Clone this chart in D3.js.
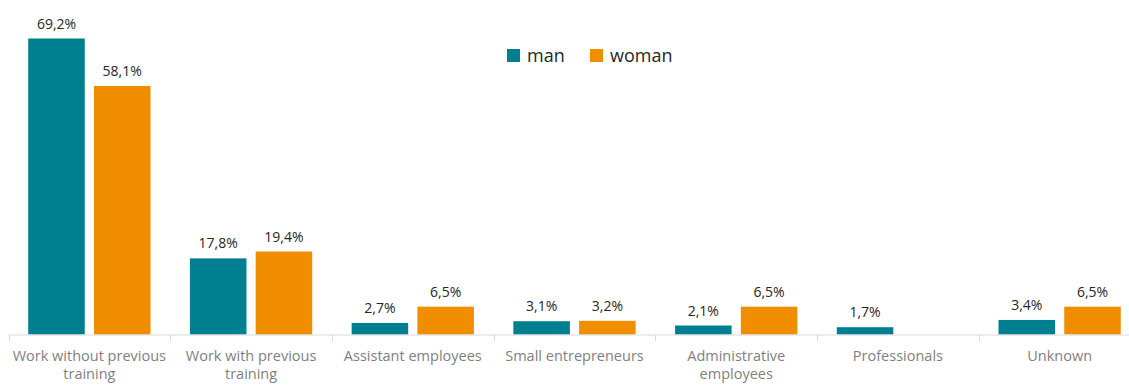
<!DOCTYPE html>
<html>
<head>
<meta charset="utf-8">
<script src="https://cdn.jsdelivr.net/npm/d3@7"></script>
<style>
  html, body { margin: 0; padding: 0; background: #fff; }
  svg { display: block; }
</style>
</head>
<body>
<svg id="chart" width="1129" height="385"></svg>
<script>
// Occupation categories (each label split into display lines)
const categories = [
  ["Work without previous", "training"],
  ["Work with previous", "training"],
  ["Assistant employees"],
  ["Small entrepreneurs"],
  ["Administrative", "employees"],
  ["Professionals"],
  ["Unknown"]
];
const seriesNames = ["man", "woman"];
const manValues   = [69.2, 17.8, 2.7, 3.1, 2.1, 1.7, 3.4];
const womanValues = [58.1, 19.4, 6.5, 3.2, 6.5, null, 6.5];

const colors = { man: "#007F91", woman: "#F18E00" };
const fontFamily = "'Open Sans', 'DejaVu Sans', sans-serif";

const svg = d3.select("#chart");

const rows = categories.map((c, i) => ({
  key: i,
  lines: c,
  man: manValues[i],
  woman: womanValues[i]
}));

// Band scale extends a little past the right edge of the canvas
const x = d3.scaleBand()
  .domain(rows.map(d => d.key))
  .range([8.5, 1140.5])
  .paddingInner(0)
  .paddingOuter(0);

const xInner = d3.scaleBand()
  .domain(seriesNames)
  .range([0, x.bandwidth()])
  .paddingInner(0.14)
  .paddingOuter(0.3);

const y = d3.scaleLinear()
  .domain([0, 69.2])
  .range([334.5, 38.5]);

const fmt = v => d3.format(".1f")(v).replace(".", ",") + "%";

// Bars
const groups = svg.append("g").selectAll("g")
  .data(rows)
  .join("g")
  .attr("transform", d => `translate(${x(d.key)},0)`);

groups.selectAll("rect")
  .data(d => seriesNames.map(s => ({ s, v: d[s] })).filter(e => e.v != null))
  .join("rect")
  .attr("x", e => xInner(e.s))
  .attr("width", xInner.bandwidth())
  .attr("y", e => y(e.v))
  .attr("height", e => y(0) - y(e.v))
  .attr("fill", e => colors[e.s]);

// Value labels above each bar
groups.selectAll("text.val")
  .data(d => seriesNames.map(s => ({ s, v: d[s] })).filter(e => e.v != null))
  .join("text")
  .attr("class", "val")
  .attr("x", e => xInner(e.s) + xInner.bandwidth() / 2)
  .attr("y", e => y(e.v) - 10)
  .attr("text-anchor", "middle")
  .attr("font-family", fontFamily)
  .attr("font-size", "14px")
  .attr("fill", "#262626")
  .text(e => fmt(e.v));

// Category axis
const axis = svg.append("g")
  .attr("transform", `translate(0,${y(0) + 0.5})`);

axis.append("line")
  .attr("x1", x.range()[0]).attr("x2", x.range()[1])
  .attr("y1", 0).attr("y2", 0)
  .attr("stroke", "#d9d9d9").attr("stroke-width", 1);

axis.selectAll("line.tick")
  .data(rows.map(d => x(d.key)).concat([x.range()[1]]))
  .join("line")
  .attr("class", "tick")
  .attr("x1", d => Math.round(d) + 0.5).attr("x2", d => Math.round(d) + 0.5)
  .attr("y1", 0).attr("y2", 6)
  .attr("stroke", "#d9d9d9").attr("stroke-width", 1);

const catLabels = axis.selectAll("text.cat")
  .data(rows)
  .join("text")
  .attr("class", "cat")
  .attr("x", d => x(d.key) + x.bandwidth() / 2)
  .attr("y", 26)
  .attr("text-anchor", "middle")
  .attr("font-family", fontFamily)
  .attr("font-size", "14.5px")
  .attr("fill", "#7f7f7f");

catLabels.selectAll("tspan")
  .data(d => d.lines.map((t, i) => ({ t, i, cx: x(d.key) + x.bandwidth() / 2 })))
  .join("tspan")
  .attr("x", t => t.cx)
  .attr("dy", t => t.i === 0 ? 0 : 18)
  .text(t => t.t);

// Legend
const legend = svg.append("g").attr("transform", "translate(507,49)");
const legendX = { man: 0, woman: 83 };
const items = legend.selectAll("g")
  .data(seriesNames)
  .join("g")
  .attr("transform", s => `translate(${legendX[s]},0)`);
items.append("rect")
  .attr("width", 13).attr("height", 13)
  .attr("fill", s => colors[s]);
items.append("text")
  .attr("x", 20)
  .attr("y", 13)
  .attr("font-family", fontFamily)
  .attr("font-size", "18px")
  .attr("fill", "#262626")
  .text(s => s);
</script>
</body>
</html>
